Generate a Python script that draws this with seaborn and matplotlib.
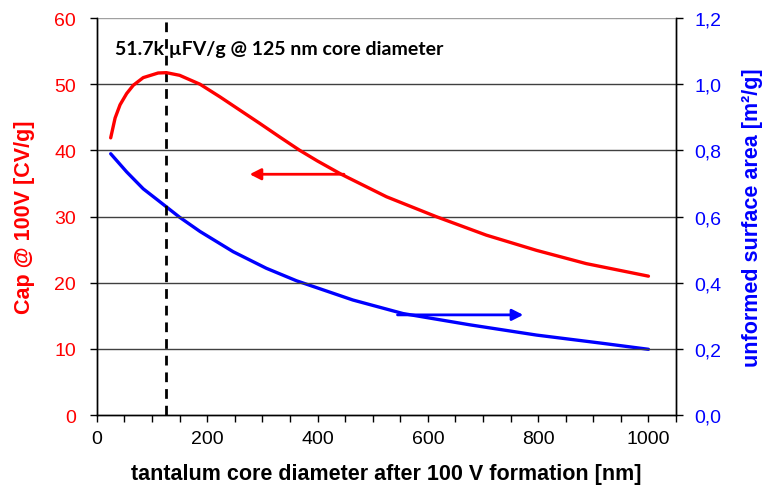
import matplotlib
matplotlib.use("Agg")
import matplotlib.pyplot as plt
import seaborn as sns
import pandas as pd

# Capacitance at 100 V [kCV/g] versus core diameter after formation [nm]
cap_diameter = [25, 33, 42, 54, 66, 84, 111, 126, 150, 187, 223, 259, 295,
                332, 368, 400, 443, 525, 615, 706, 797, 887, 1000]
capacitance = [41.9, 44.9, 46.9, 48.6, 49.85, 51.0, 51.7, 51.75, 51.35,
               50.0, 48.1, 46.1, 44.1, 42.0, 40.0, 38.4, 36.4, 33.0, 30.0,
               27.2, 24.9, 22.9, 21.0]

# Unformed specific surface area [m²/g] versus core diameter [nm]
area_diameter = [25, 54, 84, 111, 150, 187, 247, 307, 362, 464, 555, 676,
                 797, 917, 1000]
surface_area = [0.790, 0.735, 0.684, 0.649, 0.598, 0.555, 0.494, 0.444,
                0.406, 0.348, 0.307, 0.273, 0.242, 0.217, 0.199]

peak_diameter = 125
peak_label = "51.7k µFV/g @ 125 nm core diameter"

left_ticks = [0, 10, 20, 30, 40, 50, 60]
right_ticks = [0.0, 0.2, 0.4, 0.6, 0.8, 1.0, 1.2]
x_ticks = [0, 200, 400, 600, 800, 1000]

cap_df = pd.DataFrame({"diameter": cap_diameter, "cap": capacitance})
area_df = pd.DataFrame({"diameter": area_diameter, "area": surface_area})

sns.set_theme(style="white")
plt.rcParams["font.family"] = ["Liberation Sans", "DejaVu Sans"]

fig = plt.figure(figsize=(7.63, 4.89), dpi=100)
ax = fig.add_axes([0.127, 0.149, 0.759, 0.812])
ax2 = ax.twinx()

RED = "#FF0000"
BLUE = "#0000FF"

sns.lineplot(data=cap_df, x="diameter", y="cap", ax=ax, color=RED, lw=2.4,
             zorder=4, solid_joinstyle="round", solid_capstyle="round")
sns.lineplot(data=area_df, x="diameter", y="area", ax=ax2, color=BLUE,
             lw=2.4, zorder=4, solid_joinstyle="round",
             solid_capstyle="round")

ax.set_xlim(0, 1050)
ax.set_ylim(0, 60)
ax2.set_ylim(0, 1.2)

# horizontal gridlines
for v in left_ticks[1:]:
    ax.axhline(v, color="#404040" if v < 60 else "#a0a0a0", lw=1.0,
               zorder=1)

# peak marker
ax.axvline(peak_diameter, color="black", lw=2.0, ls=(0, (3.5, 2.5)),
           zorder=3)
ax.text(33, 55.4, peak_label, fontsize=14, fontweight="bold",
        family=["Lato", "DejaVu Sans"], color="black", ha="left",
        va="center", zorder=5)

# arrows pointing at the associated axis
ax.annotate("", xy=(277, 36.4), xytext=(448, 36.4),
            arrowprops=dict(arrowstyle="-|>,head_length=0.55,head_width=0.28",
                            color=RED, lw=2.0, shrinkA=0, shrinkB=0),
            zorder=5)
ax2.annotate("", xy=(773, 0.303), xytext=(545, 0.303),
             arrowprops=dict(arrowstyle="-|>,head_length=0.55,head_width=0.28",
                             color=BLUE, lw=2.0, shrinkA=0, shrinkB=0),
             zorder=5)

# ticks
ax.set_xticks(x_ticks)
ax.set_xticks(list(range(0, 1051, 50)), minor=True)
ax.set_yticks(left_ticks)
ax2.set_yticks(right_ticks)
ax2.set_yticklabels([f"{v:.1f}".replace(".", ",") for v in right_ticks])

ax.tick_params(axis="x", which="both", direction="out", length=5, width=1,
               color="black", labelsize=14, labelcolor="black", pad=6,
               bottom=True)
ax.tick_params(axis="y", direction="out", length=5, width=1, color="black",
               labelsize=14, labelcolor=RED, left=True, pad=10)
ax2.tick_params(axis="y", direction="out", length=5, width=1, color="black",
                labelsize=14, labelcolor=BLUE, right=True, pad=8)

for a in (ax, ax2):
    for side in ("left", "right", "bottom"):
        a.spines[side].set_color("black")
        a.spines[side].set_linewidth(1.0)
    a.spines["top"].set_visible(False)

ax.set_xlabel("tantalum core diameter after 100 V formation [nm]",
              fontsize=15.5, fontweight="bold", color="black", labelpad=11)
ax.set_ylabel("Cap @ 100V [CV/g]", fontsize=15.5, fontweight="bold",
              color=RED, labelpad=14)
ax2.set_ylabel("unformed surface area [m²/g]", fontsize=15.5,
               fontweight="bold", color=BLUE, labelpad=15)

ax.set_zorder(ax2.get_zorder() + 1)
ax.patch.set_visible(False)

fig.savefig("out.png", dpi=100, facecolor="white")
